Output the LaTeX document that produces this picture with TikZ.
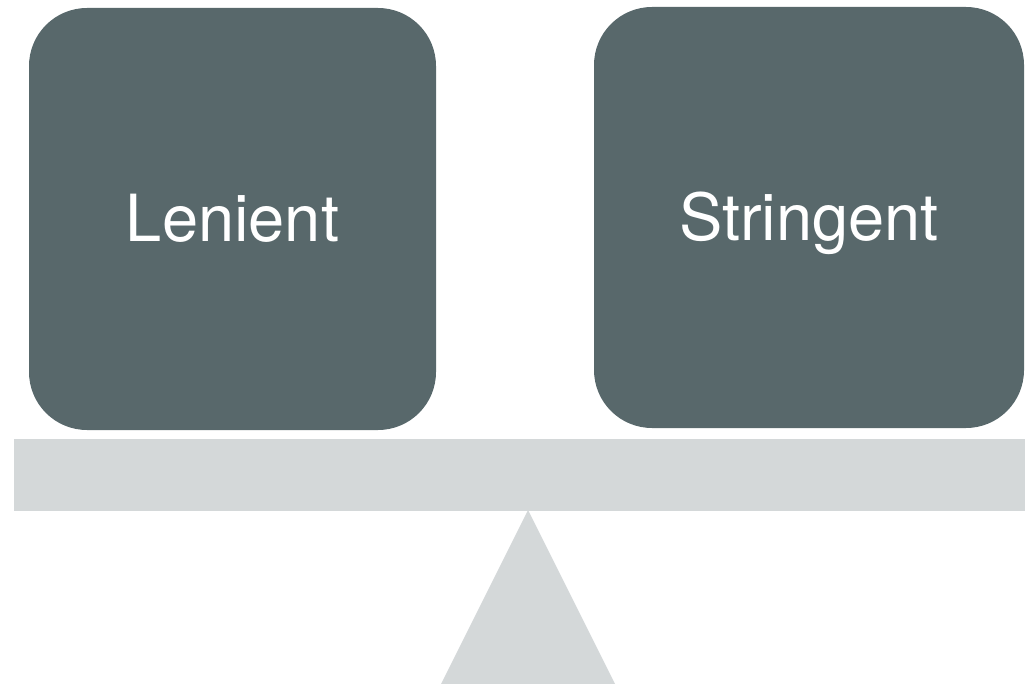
\documentclass[tikz,border=0pt]{standalone}
\usepackage{fontspec}
\setmainfont{TeX Gyre Heros}
\definecolor{darkbox}{HTML}{58686B}
\definecolor{lightgrey}{HTML}{D4D8D9}
\begin{document}
\begin{tikzpicture}[x=1pt,y=-1pt,
  weightbox/.style={fill=darkbox,draw=none,rounded corners=58pt,text=white,
    font=\fontsize{65}{78}\selectfont,inner sep=0pt,text height=50pt,text depth=4pt},
  beam/.style={fill=lightgrey,draw=none,inner sep=0pt}]
\useasboundingbox (0,0) rectangle (1025,684);
\node[weightbox,minimum width=407pt,minimum height=422pt] (lenient) at (232.5,219) {Lenient};
\node[weightbox,minimum width=430pt,minimum height=421pt] (stringent) at (809,217.5) {Stringent};
\node[beam,minimum width=1011pt,minimum height=72pt] (bar) at (519.5,474.5) {};
\coordinate (apex) at (528,510);
\fill[lightgrey] (apex) -- (615,684) -- (441,684) -- cycle;
\end{tikzpicture}
\end{document}
